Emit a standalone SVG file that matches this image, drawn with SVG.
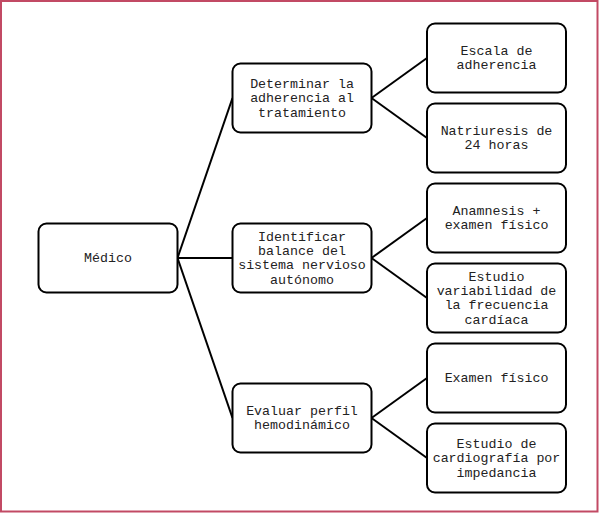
<svg xmlns="http://www.w3.org/2000/svg" width="600" height="513" viewBox="0 0 600 513">
<style>
.box{fill:#fff;stroke:#000;stroke-width:2}
.lbl{font-family:"Liberation Mono","Courier New",monospace;font-size:13.3px;fill:#222;text-anchor:middle}
.con{stroke:#000;stroke-width:2;fill:none}
</style>
<rect x="0" y="0" width="600" height="513" fill="#fff"/>
<rect x="1" y="1" width="596.5" height="510.5" fill="none" stroke="#C24A64" stroke-width="2"/>
<g id="connectors">
<line class="con" x1="177.5" y1="258" x2="232.5" y2="98"/>
<line class="con" x1="177.5" y1="258" x2="232.5" y2="258"/>
<line class="con" x1="177.5" y1="258" x2="232.5" y2="418"/>
<line class="con" x1="371.5" y1="98" x2="427" y2="58"/>
<line class="con" x1="371.5" y1="98" x2="427" y2="138"/>
<line class="con" x1="371.5" y1="258" x2="427" y2="218"/>
<line class="con" x1="371.5" y1="258" x2="427" y2="298"/>
<line class="con" x1="371.5" y1="418" x2="427" y2="378"/>
<line class="con" x1="371.5" y1="418" x2="427" y2="458"/>
</g>
<g id="medico">
<rect class="box" x="38.5" y="223.5" width="139" height="69" rx="8"/>
<text class="lbl" x="108" y="262.3">Médico</text>
</g>
<g id="determinar">
<rect class="box" x="232.5" y="63.5" width="139" height="69" rx="8"/>
<text class="lbl" x="302" y="88">Determinar la</text>
<text class="lbl" x="302" y="102.3">adherencia al</text>
<text class="lbl" x="302" y="116.6">tratamiento</text>
</g>
<g id="identificar">
<rect class="box" x="232.5" y="223.5" width="139" height="69" rx="8"/>
<text class="lbl" x="302" y="240.8">Identificar</text>
<text class="lbl" x="302" y="255.1">balance del</text>
<text class="lbl" x="302" y="269.4">sistema nervioso</text>
<text class="lbl" x="302" y="283.7">autónomo</text>
</g>
<g id="evaluar">
<rect class="box" x="232.5" y="383.5" width="139" height="69" rx="8"/>
<text class="lbl" x="302" y="414.9">Evaluar perfil</text>
<text class="lbl" x="302" y="429.2">hemodinámico</text>
</g>
<g id="escala">
<rect class="box" x="427" y="23.5" width="139" height="69" rx="8"/>
<text class="lbl" x="496.5" y="54.9">Escala de</text>
<text class="lbl" x="496.5" y="69.2">adherencia</text>
</g>
<g id="natriuresis">
<rect class="box" x="427" y="103.5" width="139" height="69" rx="8"/>
<text class="lbl" x="496.5" y="134.9">Natriuresis de</text>
<text class="lbl" x="496.5" y="149.2">24 horas</text>
</g>
<g id="anamnesis">
<rect class="box" x="427" y="183.5" width="139" height="69" rx="8"/>
<text class="lbl" x="496.5" y="214.9">Anamnesis +</text>
<text class="lbl" x="496.5" y="229.2">examen físico</text>
</g>
<g id="variabilidad">
<rect class="box" x="427" y="263.5" width="139" height="69" rx="8"/>
<text class="lbl" x="496.5" y="280.8">Estudio</text>
<text class="lbl" x="496.5" y="295.1">variabilidad de</text>
<text class="lbl" x="496.5" y="309.4">la frecuencia</text>
<text class="lbl" x="496.5" y="323.7">cardíaca</text>
</g>
<g id="examen">
<rect class="box" x="427" y="343.5" width="139" height="69" rx="8"/>
<text class="lbl" x="496.5" y="381.5">Examen físico</text>
</g>
<g id="cardiografia">
<rect class="box" x="427" y="423.5" width="139" height="69" rx="8"/>
<text class="lbl" x="496.5" y="448">Estudio de</text>
<text class="lbl" x="496.5" y="462.3">cardiografía por</text>
<text class="lbl" x="496.5" y="476.6">impedancia</text>
</g>
</svg>
